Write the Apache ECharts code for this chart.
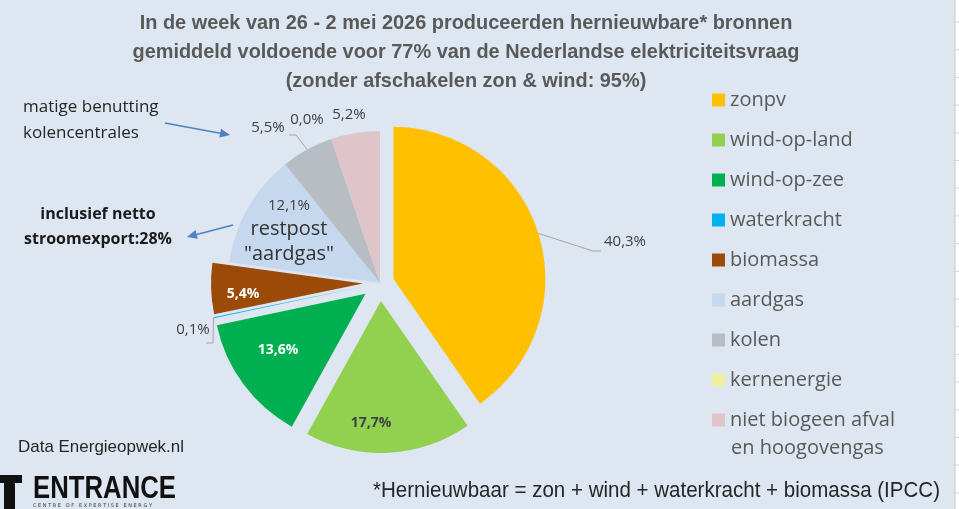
<!DOCTYPE html>
<html>
<head>
<meta charset="utf-8">
<script src="https://cdn.jsdelivr.net/npm/echarts@6/dist/echarts.min.js"></script>
<style>
html,body{margin:0;padding:0;background:#dde6f1;}
#chart{width:959px;height:509px;}
</style>
</head>
<body>
<div id="chart"></div>
<script>
// ---- data ----
const categories = ['zonpv','wind-op-land','wind-op-zee','waterkracht','biomassa','aardgas','kolen','kernenergie','niet biogeen afval en hoogovengas'];
const shares = [40.3, 17.7, 13.6, 0.1, 5.4, 12.1, 5.5, 0.0, 5.2];
const exploded = [true, true, true, true, true, false, false, false, false];
const titleLines = [
  'In de week van 26 - 2 mei 2026 produceerden hernieuwbare* bronnen',
  'gemiddeld voldoende voor 77% van de Nederlandse elektriciteitsvraag',
  '(zonder afschakelen zon & wind: 95%)'
];
const noteKolen = ['matige benutting','kolencentrales'];
const noteExport = ['inclusief netto','stroomexport:28%'];
const sourceText = 'Data Energieopwek.nl';
const footText = '*Hernieuwbaar = zon + wind + waterkracht + biomassa (IPCC)';

// ---- styling ----
const colors = ['#ffc000','#92d050','#00b050','#00b0f0','#9c4a08','#c6d8ee','#b8bdc4','#eef0a0','#dfc5ca'];
const explodeDist = [14, 18, 18, 18, 17, 0, 0, 0, 0];
const pieCenter = [380, 283];
const pieRadius = 152;
const insideIdx = [1, 2, 4, 5];
const labelPlace = {
  0: {x: 625, y: 242, line: [[593, 251], [601, 251]]},
  1: {x: 371, y: 423},
  2: {x: 278, y: 350},
  3: {x: 193, y: 330, line: [[213, 343], [206, 343]]},
  4: {x: 243, y: 294},
  5: {x: 289, y: 231},
  6: {x: 268, y: 128, line: [[296, 135], [289, 135]]},
  7: {x: 307, y: 120},
  8: {x: 349, y: 115}
};
const labelStyles = {
  1: {color: '#404040', fontWeight: 'bold', fontSize: 14},
  2: {color: '#ffffff', fontWeight: 'bold', fontSize: 14},
  4: {color: '#ffffff', fontWeight: 'bold', fontSize: 14}
};

const fmt = v => v.toFixed(1).replace('.', ',') + '%';
const total = shares.reduce((a, b) => a + b, 0);
const lastName = categories[categories.length - 1];
const splitAt = lastName.indexOf(' en ');
const lastLine1 = lastName.slice(0, splitAt);
const lastLine2 = lastName.slice(splitAt + 1);

// one pie series per slice so each exploded slice gets its own offset
const series = categories.map((cat, i) => {
  const before = shares.slice(0, i).reduce((a, b) => a + b, 0);
  const midDeg = (before + shares[i] / 2) / total * 360; // clockwise from top
  const rad = midDeg * Math.PI / 180;
  const d = exploded[i] ? explodeDist[i] : 0;
  const center = [pieCenter[0] + d * Math.sin(rad), pieCenter[1] - d * Math.cos(rad)];
  const inside = insideIdx.indexOf(i) >= 0;
  const data = shares.map((v, j) => {
    if (j !== i) {
      return {name: '\u200b' + j, value: v, itemStyle: {color: 'rgba(0,0,0,0)'}, label: {show: false}, labelLine: {show: false}};
    }
    const item = {
      name: cat,
      value: v,
      itemStyle: {color: colors[i]},
      label: Object.assign({show: true, position: inside ? 'inside' : 'outside'}, labelStyles[i] || {}),
      labelLine: {show: !!labelPlace[i].line}
    };
    if (i === 5) {
      item.label.formatter = p => '{s|' + fmt(p.value) + '}\n{b|restpost}\n{b|"aardgas"}';
      item.label.rich = {
        s: {fontSize: 15, color: '#404040', fontFamily: 'Open Sans', lineHeight: 22},
        b: {fontSize: 20, color: '#333333', fontFamily: 'Open Sans', lineHeight: 25}
      };
    }
    return item;
  });
  return {
    type: 'pie',
    name: 'slice-' + i,
    center: center,
    radius: pieRadius,
    startAngle: 90,
    clockwise: true,
    avoidLabelOverlap: false,
    silent: true,
    emphasis: {disabled: true},
    itemStyle: {borderWidth: 0},
    label: {show: true, formatter: p => fmt(p.value), fontFamily: 'Open Sans', fontSize: 15, color: '#404040'},
    labelLine: {length: 10, length2: 6, lineStyle: {color: '#a6a6a6', width: 1}},
    labelLayout: function (params) {
      if (params.dataIndex !== i) return {};
      const pl = labelPlace[i];
      const out = {x: pl.x, y: pl.y, align: 'center', verticalAlign: 'middle'};
      if (pl.line && params.labelLinePoints && params.labelLinePoints.length) {
        out.labelLinePoints = [params.labelLinePoints[0]].concat(pl.line);
      }
      return out;
    },
    data: data
  };
});

// condensed text helper (scale a regular font horizontally to a target width)
const mctx = document.createElement('canvas').getContext('2d');
function fitScale(text, font, width) { mctx.font = font; return width / mctx.measureText(text).width; }

function arrow(x1, y1, x2, y2, color) {
  const dx = x2 - x1, dy = y2 - y1, L = Math.sqrt(dx*dx + dy*dy);
  const ux = dx / L, uy = dy / L, hl = 10, hw = 4.5;
  const bx = x2 - ux * hl, by = y2 - uy * hl;
  return [
    {type: 'line', shape: {x1: x1, y1: y1, x2: bx, y2: by}, style: {stroke: color, lineWidth: 1.6}},
    {type: 'polygon', shape: {points: [[x2, y2], [bx - uy * hw, by + ux * hw], [bx + uy * hw, by - ux * hw]]}, style: {fill: color}}
  ];
}

const gridTicks = [];
for (let k = 0; k < 19; k++) {
  const y = 22 + 27.7 * k;
  gridTicks.push({type: 'line', shape: {x1: 955, y1: y, x2: 959, y2: y}, style: {stroke: '#d4d4d4', lineWidth: 1}});
}

const titleFont = 'bold 21px "Liberation Sans"';
const titleScale = fitScale(titleLines[1], titleFont, 667);
const srcFont = '17px "Liberation Sans"';
const footFont = '22px "Liberation Sans"';
const logoFont = 'bold 31px "Liberation Sans"';

const chart = echarts.init(document.getElementById('chart'), null, {renderer: 'canvas'});
chart.setOption({
  backgroundColor: '#dde6f1',
  animation: false,
  legend: {
    orient: 'vertical',
    left: 707,
    top: 85,
    itemWidth: 13,
    itemHeight: 13,
    itemGap: 20,
    icon: 'rect',
    selectedMode: false,
    data: categories.map((c, i) => ({name: c, itemStyle: {color: colors[i]}})),
    formatter: n => n === lastName ? lastLine1 : n,
    textStyle: {fontFamily: 'Open Sans', fontSize: 20, color: '#595959', lineHeight: 20}
  },
  series: series,
  graphic: [].concat(
    [
      {type: 'rect', shape: {x: 955, y: 0, width: 4, height: 509}, style: {fill: '#ffffff'}},
      {type: 'line', shape: {x1: 955, y1: 0, x2: 955, y2: 509}, style: {stroke: '#c8c8c8', lineWidth: 1}}
    ],
    gridTicks,
    [
      {type: 'text', x: 466, y: 8.5, scaleX: titleScale, style: {text: titleLines.join('\n'), font: titleFont, lineHeight: 29, fill: '#595959', align: 'center', verticalAlign: 'top'}},
      {type: 'text', x: 731, y: 448, style: {text: lastLine2, fontFamily: 'Open Sans', fontSize: 20, fill: '#595959', verticalAlign: 'middle'}},
      {type: 'text', left: 23, top: 94, style: {text: noteKolen.join('\n'), fontFamily: 'Open Sans', fontSize: 17, lineHeight: 26, fill: '#262626'}},
      {type: 'text', x: 98, y: 227, style: {text: noteExport.join('\n'), fontFamily: 'Open Sans', fontWeight: 'bold', fontSize: 16, lineHeight: 25, fill: '#1a1a1a', align: 'center', verticalAlign: 'middle'}},
      {type: 'text', x: 18, y: 447, scaleX: fitScale(sourceText, srcFont, 166), style: {text: sourceText, font: srcFont, fill: '#262626', verticalAlign: 'middle'}},
      {type: 'text', x: 940, y: 491, scaleX: fitScale(footText, footFont, 567), style: {text: footText, font: footFont, fill: '#262626', align: 'right', verticalAlign: 'middle'}},
      {type: 'rect', shape: {x: 0, y: 475, width: 22, height: 8}, style: {fill: '#111111'}},
      {type: 'rect', shape: {x: 4, y: 475, width: 11, height: 34}, style: {fill: '#111111'}},
      {type: 'text', x: 33, y: 489, scaleX: fitScale('ENTRANCE', logoFont, 143), style: {text: 'ENTRANCE', font: logoFont, fill: '#111111', verticalAlign: 'middle'}},
      {type: 'text', x: 33, y: 506, style: {text: 'C E N T R E   O F   E X P E R T I S E   E N E R G Y', fontFamily: 'DejaVu Sans', fontSize: 5, fill: '#333333', verticalAlign: 'middle'}}
    ],
    arrow(165, 123, 230, 135, '#4f81bd'),
    arrow(233, 225, 187, 237, '#4f81bd')
  )
});
</script>
</body>
</html>
